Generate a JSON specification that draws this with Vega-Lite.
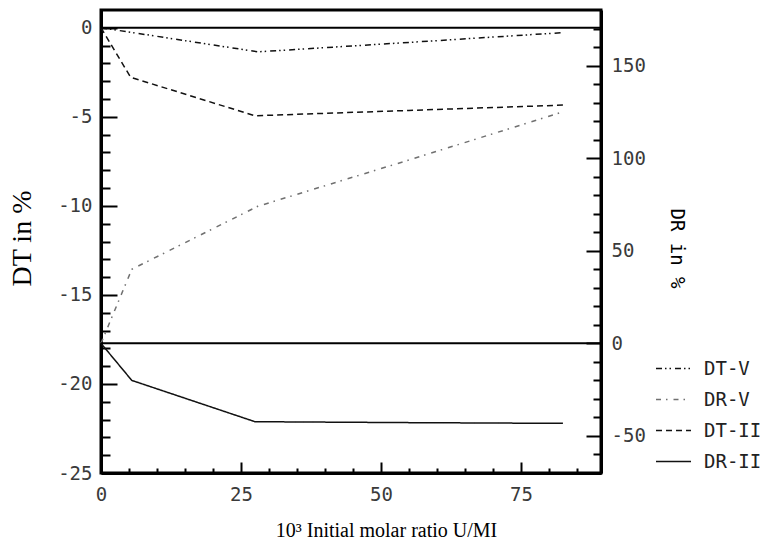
{
  "$schema": "https://vega.github.io/schema/vega-lite/v6.json",
  "width": 500,
  "height": 463,
  "autosize": {"type": "none"},
  "padding": {"left": 101, "top": 10, "right": 161, "bottom": 79},
  "background": "white",
  "config": {
    "view": {"stroke": "black", "strokeWidth": 3},
    "axis": {
      "grid": false,
      "domainColor": "black",
      "domainWidth": 3,
      "tickColor": "black",
      "tickWidth": 2,
      "tickCount": 200,
      "labelFont": "DejaVu Sans Mono",
      "labelFontSize": 19,
      "labelColor": "#3a3a3a",
      "labelOverlap": false,
      "labelFlush": false,
      "labelBound": false,
      "titleFontWeight": "normal",
      "titleColor": "black"
    },
    "legend": {
      "orient": "none",
      "legendX": 554,
      "legendY": 340,
      "padding": 0,
      "symbolType": "stroke",
      "symbolSize": 1225,
      "symbolStrokeWidth": 1.5,
      "labelFont": "DejaVu Sans Mono",
      "labelFontSize": 19,
      "labelColor": "#222",
      "labelOffset": 12,
      "rowPadding": 2
    }
  },
  "datasets": {
    "dt": [
      {"x": 0, "value": 0, "series": "DT-V"},
      {"x": 5.5, "value": -0.26, "series": "DT-V"},
      {"x": 28, "value": -1.35, "series": "DT-V"},
      {"x": 55, "value": -0.82, "series": "DT-V"},
      {"x": 82.5, "value": -0.27, "series": "DT-V"},
      {"x": 0, "value": 0, "series": "DT-II"},
      {"x": 5.3, "value": -2.78, "series": "DT-II"},
      {"x": 27.5, "value": -4.94, "series": "DT-II"},
      {"x": 55, "value": -4.64, "series": "DT-II"},
      {"x": 82.5, "value": -4.34, "series": "DT-II"}
    ],
    "dr": [
      {"x": 0, "value": 0, "series": "DR-V"},
      {"x": 5.5, "value": 40, "series": "DR-V"},
      {"x": 28, "value": 74, "series": "DR-V"},
      {"x": 55, "value": 99, "series": "DR-V"},
      {"x": 82.5, "value": 125, "series": "DR-V"},
      {"x": 0, "value": 0, "series": "DR-II"},
      {"x": 5.5, "value": -20, "series": "DR-II"},
      {"x": 27.5, "value": -42.3, "series": "DR-II"},
      {"x": 55, "value": -42.8, "series": "DR-II"},
      {"x": 82.5, "value": -43.2, "series": "DR-II"}
    ],
    "zero": [{"value": 0}]
  },
  "layer": [
    {
      "layer": [
        {
          "data": {"name": "dt"},
          "mark": {"type": "line", "strokeWidth": 1.5},
          "encoding": {
            "x": {
              "field": "x",
              "type": "quantitative",
              "scale": {"domain": [0, 89.3], "nice": false, "zero": false},
              "axis": {
                "values": [0, 5, 10, 15, 20, 25, 30, 35, 40, 45, 50, 55, 60, 65, 70, 75, 80, 85],
                "tickCount": 200,
                "tickSize": {"condition": {"test": "datum.value % 25 === 0", "value": -11}, "value": -5},
                "labelExpr": "datum.value % 25 === 0 ? '' + datum.value : ''",
                "labelPadding": 23,
                "title": "10³ Initial molar ratio U/MI",
                "titleFont": "Liberation Serif",
                "titleFontSize": 20,
                "titleX": 285,
                "titleY": 63,
                "titleBaseline": "alphabetic"
              }
            },
            "y": {
              "field": "value",
              "type": "quantitative",
              "scale": {"domain": [-25, 1], "nice": false, "zero": false},
              "axis": {
                "orient": "left",
                "values": [-25, -24, -23, -22, -21, -20, -19, -18, -17, -16, -15, -14, -13, -12, -11, -10, -9, -8, -7, -6, -5, -4, -3, -2, -1, 0],
                "tickCount": 200,
                "tickSize": {"condition": {"test": "datum.value % 5 === 0", "value": -16}, "value": -9},
                "labelExpr": "datum.value % 5 === 0 ? (datum.value < 0 ? '-' + (-datum.value) : '' + datum.value) : ''",
                "labelPadding": 25,
                "labelBaseline": "middle",
                "title": "DT in %",
                "titleFont": "Liberation Serif",
                "titleFontSize": 28,
                "titleAngle": -90,
                "titleX": -71,
                "titleY": 228,
                "titleAlign": "center",
                "titleBaseline": "alphabetic"
              }
            },
            "color": {
              "field": "series",
              "type": "nominal",
              "scale": {"domain": ["DT-V", "DR-V", "DT-II", "DR-II"], "range": ["#111111", "#707070", "#111111", "#111111"]},
              "legend": {"title": null}
            },
            "strokeDash": {
              "field": "series",
              "type": "nominal",
              "scale": {"domain": ["DT-V", "DR-V", "DT-II", "DR-II"], "range": [[6, 3, 1.5, 3, 1.5, 4], [5, 5, 1.5, 6], [6, 4], [1, 0]]},
              "legend": {"title": null}
            }
          }
        },
        {
          "data": {"name": "zero"},
          "mark": {"type": "rule", "color": "black", "strokeWidth": 2},
          "encoding": {"y": {"field": "value", "type": "quantitative"}}
        }
      ]
    },
    {
      "layer": [
        {
          "data": {"name": "dr"},
          "mark": {"type": "line", "strokeWidth": 1.5},
          "encoding": {
            "x": {
              "field": "x",
              "type": "quantitative",
              "scale": {"domain": [0, 89.3], "nice": false, "zero": false},
              "axis": {
                "values": [0, 5, 10, 15, 20, 25, 30, 35, 40, 45, 50, 55, 60, 65, 70, 75, 80, 85],
                "tickCount": 200,
                "tickSize": {"condition": {"test": "datum.value % 25 === 0", "value": -11}, "value": -5},
                "labelExpr": "datum.value % 25 === 0 ? '' + datum.value : ''",
                "labelPadding": 23,
                "title": "10³ Initial molar ratio U/MI",
                "titleFont": "Liberation Serif",
                "titleFontSize": 20,
                "titleX": 285,
                "titleY": 63,
                "titleBaseline": "alphabetic"
              }
            },
            "y": {
              "field": "value",
              "type": "quantitative",
              "scale": {"domain": [-70, 180], "nice": false, "zero": false},
              "axis": {
                "orient": "right",
                "values": [-70, -60, -50, -40, -30, -20, -10, 0, 10, 20, 30, 40, 50, 60, 70, 80, 90, 100, 110, 120, 130, 140, 150, 160, 170],
                "tickCount": 200,
                "tickSize": {"condition": {"test": "datum.value % 50 === 0", "value": -15}, "value": -8},
                "labelExpr": "datum.value % 50 === 0 ? (datum.value < 0 ? '-' + (-datum.value) : '' + datum.value) : ''",
                "labelPadding": 25,
                "labelBaseline": "middle",
                "title": "DR in %",
                "titleFont": "DejaVu Sans Mono",
                "titleFontSize": 19,
                "titleAngle": 90,
                "titleX": 69,
                "titleY": 238,
                "titleAlign": "center",
                "titleBaseline": "alphabetic"
              }
            },
            "color": {"field": "series", "type": "nominal", "legend": {"title": null}},
            "strokeDash": {"field": "series", "type": "nominal", "legend": {"title": null}}
          }
        },
        {
          "data": {"name": "zero"},
          "mark": {"type": "rule", "color": "black", "strokeWidth": 2},
          "encoding": {"y": {"field": "value", "type": "quantitative"}}
        }
      ]
    }
  ],
  "resolve": {"scale": {"y": "independent"}, "axis": {"y": "independent"}}
}
